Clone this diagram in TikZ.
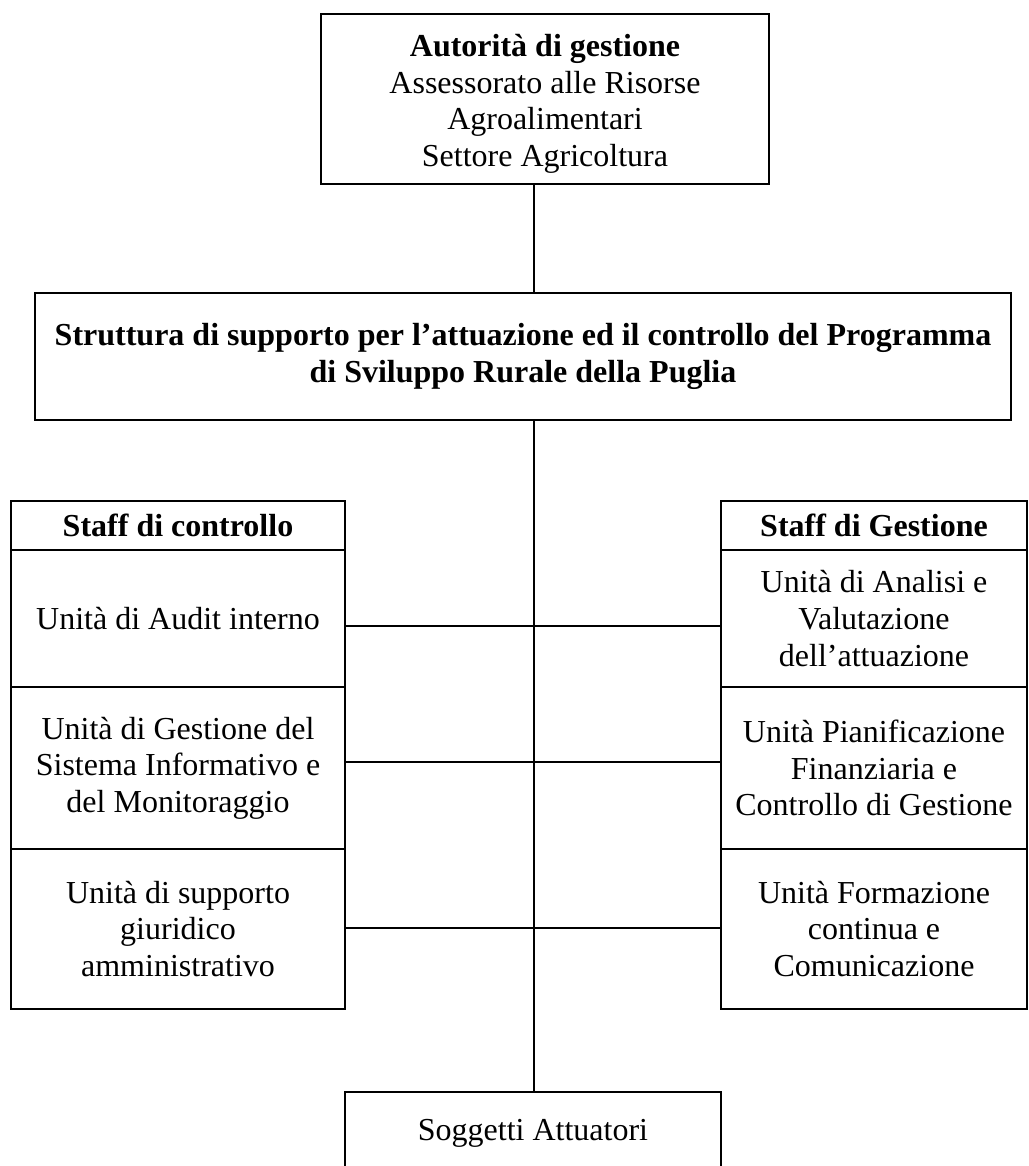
\documentclass[tikz,border=0pt]{standalone}
\usepackage{fontspec}
\setmainfont{Liberation Serif}
\usetikzlibrary{positioning}

\begin{document}
\begin{tikzpicture}[x=0.75pt,y=-0.75pt,node distance=0pt]
	\tikzstyle{box}=[rectangle, draw=black, line width=1.5pt, align=center, inner sep=0pt, outer sep=0pt, font=\fontsize{24}{27.5}\selectfont]
	\tikzstyle{lcell}=[box, minimum width=250.5pt]
	\tikzstyle{rcell}=[box, minimum width=229.5pt]
	\tikzstyle{head}=[minimum height=36.75pt, font=\fontsize{24}{27.5}\selectfont\bfseries]
	\tikzstyle{link}=[line width=1.5pt]

	\useasboundingbox (0,0) rectangle (1028,1166);

	\node [box, minimum width=336pt, minimum height=127.5pt] (ag) at (545,99) {\rule{0pt}{24pt}\textbf{Autorità di gestione}\\Assessorato alle Risorse\\Agroalimentari\\Settore Agricoltura};
	\node [box, minimum width=732pt, minimum height=95.25pt, font=\fontsize{24}{27.5}\selectfont\bfseries] (sr) at (523,356.5) {Struttura di supporto per l’attuazione ed il controllo del Programma\\di Sviluppo Rurale della Puglia};

	\node [lcell, head] (lh) at (178,525.5) {Staff di controllo};
	\node [lcell, minimum height=102.75pt] (l1) [below=of lh] {Unità di Audit interno};
	\node [lcell, minimum height=121.5pt] (l2) [below=of l1] {Unità di Gestione del\\Sistema Informativo e\\del Monitoraggio};
	\node [lcell, minimum height=120pt] (l3) [below=of l2] {Unità di supporto\\giuridico\\amministrativo};

	\node [rcell, head] (rh) at (874,525.5) {Staff di Gestione};
	\node [rcell, minimum height=102.75pt] (r1) [below=of rh] {Unità di Analisi e\\Valutazione\\dell’attuazione};
	\node [rcell, minimum height=121.5pt] (r2) [below=of r1] {Unità Pianificazione\\Finanziaria e\\Controllo di Gestione};
	\node [rcell, minimum height=120pt] (r3) [below=of r2] {Unità Formazione\\continua e\\Comunicazione};

	\node [box, minimum width=282pt, minimum height=62.25pt] (sa) at (533,1133.5) {Soggetti Attuatori};

	\coordinate (spine) at (534,0);
	\draw [link] (spine |- ag.south) -- (spine |- sr.north);
	\draw [link] (spine |- sr.south) -- (spine |- sa.north);
	\foreach \i/\dy in {1/-5.25,2/4.5,3/0.75}
		\draw [link] ([yshift=\dy pt]l\i.east) -- ([yshift=\dy pt]l\i.east -| r\i.west);
\end{tikzpicture}
\end{document}
